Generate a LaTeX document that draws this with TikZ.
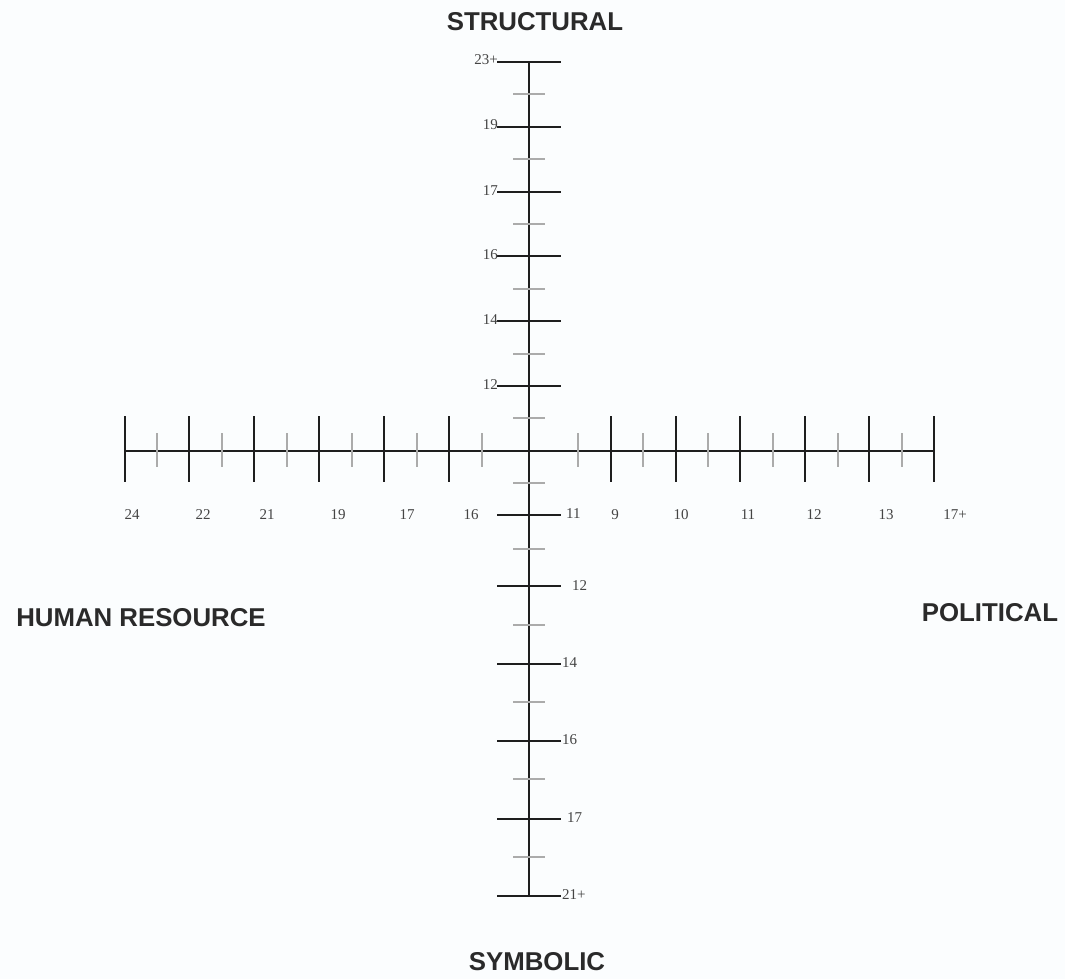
\documentclass[tikz,border=0pt]{standalone}
\usepackage{fontspec}
\setmainfont{Liberation Serif}
\newfontfamily\titlefont{Liberation Sans}
\definecolor{axisc}{HTML}{1E1E1E}
\definecolor{minorc}{HTML}{ABABAB}
\definecolor{numc}{HTML}{444444}
\definecolor{titlec}{HTML}{2A2A2A}
\definecolor{bgc}{HTML}{FBFDFE}
\begin{document}
\begin{tikzpicture}[x=1pt,y=-1pt,
  axisline/.style={draw=axisc,line width=2pt},
  majortick/.style={draw=axisc,line width=2.5pt},
  minortick/.style={draw=minorc,line width=1.6pt},
  num/.style={inner sep=0pt,text=numc,font=\fontsize{15}{17}\selectfont},
  title/.style={inner sep=0pt,text=titlec,font=\titlefont\bfseries\fontsize{25.8}{30}\selectfont}]
\fill[bgc] (0,0) rectangle (1065,979);
\useasboundingbox (0,0) rectangle (1065,979);
% axes
\coordinate (vtop) at (529,62);
\coordinate (vbot) at (529,896);
\coordinate (hleft) at (125,451);
\coordinate (hright) at (934,451);
\draw[axisline] (vtop) -- (vbot);
\draw[axisline] (hleft) -- (hright);
% vertical major ticks
\foreach \y in {62,127,192,256,321,386,515,586,664,741,819,896}
  \draw[majortick] (497,\y) -- (561,\y);
% vertical minor ticks
\foreach \y in {94,159,224,289,354,418,483,549,625,702,779,857}
  \draw[minortick] (513,\y) -- (545,\y);
% horizontal major ticks
\foreach \x in {125,189,254,319,384,449,611,676,740,805,869,934}
  \draw[majortick] (\x,416) -- (\x,482);
% horizontal minor ticks
\foreach \x in {157,222,287,352,417,482,578,643,708,773,838,902}
  \draw[minortick] (\x,433) -- (\x,467);
% top labels
\foreach \y/\t [count=\i] in {62/23+,127/19,192/17,256/16,321/14,386/12}
  \node[num,anchor=base east] (st\i) at (498,\y+3) {\t};
% bottom labels
\foreach \x/\y/\t [count=\i] in {566/518/11,572/590/12,562/667/14,562/744/16,567/822/17,562/899/21+}
  \node[num,anchor=base west] (sy\i) at (\x,\y) {\t};
% horizontal labels
\foreach \x/\t [count=\i] in {132/24,203/22,267/21,338/19,407/17,471/16}
  \node[num,anchor=base] (hr\i) at (\x,519) {\t};
\foreach \x/\t [count=\i] in {615/9,681/10,748/11,814/12,886/13,955/17+}
  \node[num,anchor=base] (po\i) at (\x,519) {\t};
% titles
\node[title] (structural) at (535,22) {STRUCTURAL};
\node[title] (humanres) at (141,618) {HUMAN RESOURCE};
\node[title] (political) at (990,613) {POLITICAL};
\node[title] (symbolic) at (537,962) {SYMBOLIC};
\end{tikzpicture}
\end{document}
